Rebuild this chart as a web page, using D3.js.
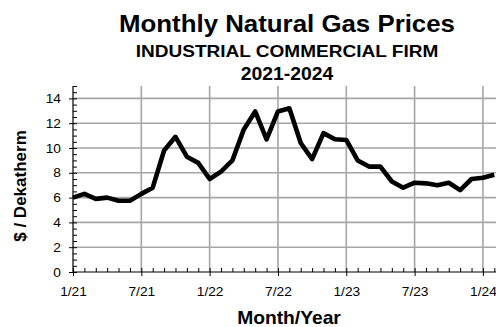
<!DOCTYPE html>
<html>
<head>
<meta charset="utf-8">
<script src="https://cdn.jsdelivr.net/npm/d3@7"></script>
<style>
  html, body { margin: 0; padding: 0; background: #fff; overflow: hidden; }
  svg { display: block; font-family: "Liberation Sans", Arial, Helvetica, sans-serif; }
</style>
</head>
<body>
<script>
// Monthly industrial/commercial firm natural gas price, $ per dekatherm, Jan 2021 onward
const months = ["1/21","2/21","3/21","4/21","5/21","6/21","7/21","8/21","9/21","10/21","11/21","12/21",
                "1/22","2/22","3/22","4/22","5/22","6/22","7/22","8/22","9/22","10/22","11/22","12/22",
                "1/23","2/23","3/23","4/23","5/23","6/23","7/23","8/23","9/23","10/23","11/23","12/23",
                "1/24","2/24"];
const prices = [6.0, 6.3, 5.9, 6.0, 5.75, 5.75, 6.3, 6.8, 9.8, 10.9, 9.3, 8.8,
                7.5, 8.1, 9.0, 11.5, 12.95, 10.7, 12.95, 13.2, 10.4, 9.1, 11.2, 10.7,
                10.65, 9.0, 8.5, 8.5, 7.3, 6.8, 7.2, 7.15, 7.0, 7.2, 6.6, 7.5,
                7.6, 7.85];
const xTickLabels = ["1/21","7/21","1/22","7/22","1/23","7/23","1/24"];
const yTicks = [0, 2, 4, 6, 8, 10, 12, 14];

const W = 496, H = 327;
const plot = { left: 73, right: 500, top: 86, bottom: 272 };
const STRETCH = 1.1;

const svg = d3.select("body").append("svg").attr("width", W).attr("height", H);

const x = d3.scaleLinear().domain([0, 37.5]).range([plot.left, plot.right]);
const y = d3.scaleLinear().domain([0, 15]).range([plot.bottom, plot.top]);

const majorX = xTickLabels.map(l => months.indexOf(l));

// gridlines
const grid = svg.append("g").attr("stroke", "#a6a6a6").attr("stroke-width", 1.6);
grid.selectAll("line.h").data(yTicks.filter(d => d > 0)).join("line")
  .attr("x1", plot.left).attr("x2", plot.right)
  .attr("y1", d => y(d)).attr("y2", d => y(d));
grid.selectAll("line.v").data(majorX.filter(d => d > 0)).join("line")
  .attr("y1", plot.top).attr("y2", plot.bottom)
  .attr("x1", d => x(d)).attr("x2", d => x(d));

// minor ticks (inside)
const minorY = d3.range(0, 15.01, 0.5);
svg.append("g").attr("transform", `translate(${plot.left},0)`)
  .call(d3.axisRight(y).tickValues(minorY).tickSize(4).tickSizeOuter(0).tickFormat(""))
  .call(g => g.select(".domain").remove())
  .call(g => g.selectAll("line").attr("stroke", "#000"));
svg.append("g").attr("transform", `translate(0,${plot.bottom})`)
  .call(d3.axisTop(x).tickValues(d3.range(0, months.length)).tickSize(4).tickSizeOuter(0).tickFormat(""))
  .call(g => g.select(".domain").remove());

// y axis
svg.append("g").attr("transform", `translate(${plot.left},0)`)
  .call(d3.axisLeft(y).tickValues(yTicks).tickSize(4).tickSizeOuter(0).tickPadding(8))
  .call(g => g.select(".domain").attr("d", `M0,${plot.top}V${plot.bottom}`).attr("stroke-width", 1.2))
  .call(g => g.selectAll("text")
    .attr("font-size", 12.5).attr("fill", "#000").attr("font-family", "Liberation Sans, Arial, sans-serif")
    .attr("x", -12 / STRETCH).attr("transform", `scale(${STRETCH},1)`));

// x axis
svg.append("g").attr("transform", `translate(0,${plot.bottom})`)
  .call(d3.axisBottom(x).tickValues(majorX).tickSize(4).tickSizeOuter(0)
    .tickFormat(i => months[i]))
  .call(g => g.select(".domain").attr("d", `M${plot.left},0H${plot.right}`).attr("stroke-width", 1.2))
  .call(g => g.selectAll("text")
    .attr("font-size", 12.5).attr("fill", "#000").attr("font-family", "Liberation Sans, Arial, sans-serif")
    .attr("y", 15).attr("transform", `scale(${STRETCH},1)`));

// price line
const line = d3.line().x((d, i) => x(i)).y(d => y(d));
svg.append("path").datum(prices)
  .attr("d", line)
  .attr("fill", "none").attr("stroke", "#000").attr("stroke-width", 4.6)
  .attr("stroke-linejoin", "round").attr("stroke-linecap", "butt");

// titles
function label(tx, ty, text, size, rotate) {
  const g = svg.append("g").attr("transform", `translate(${tx},${ty})` + (rotate ? ` rotate(${rotate})` : ""));
  g.append("text")
    .attr("transform", rotate ? `scale(1,1)` : `scale(${STRETCH},1)`)
    .attr("text-anchor", "middle").attr("font-weight", "bold").attr("font-size", size)
    .attr("fill", "#000").text(text);
}
label(287, 32, "Monthly Natural Gas Prices", 23.5);
label(287, 57, "INDUSTRIAL COMMERCIAL FIRM", 17.3);
label(287, 80, "2021-2024", 17.6);
label(289, 324, "Month/Year", 17.5);
label(26, 186, "$ / Dekatherm", 17, -90);
</script>
</body>
</html>
